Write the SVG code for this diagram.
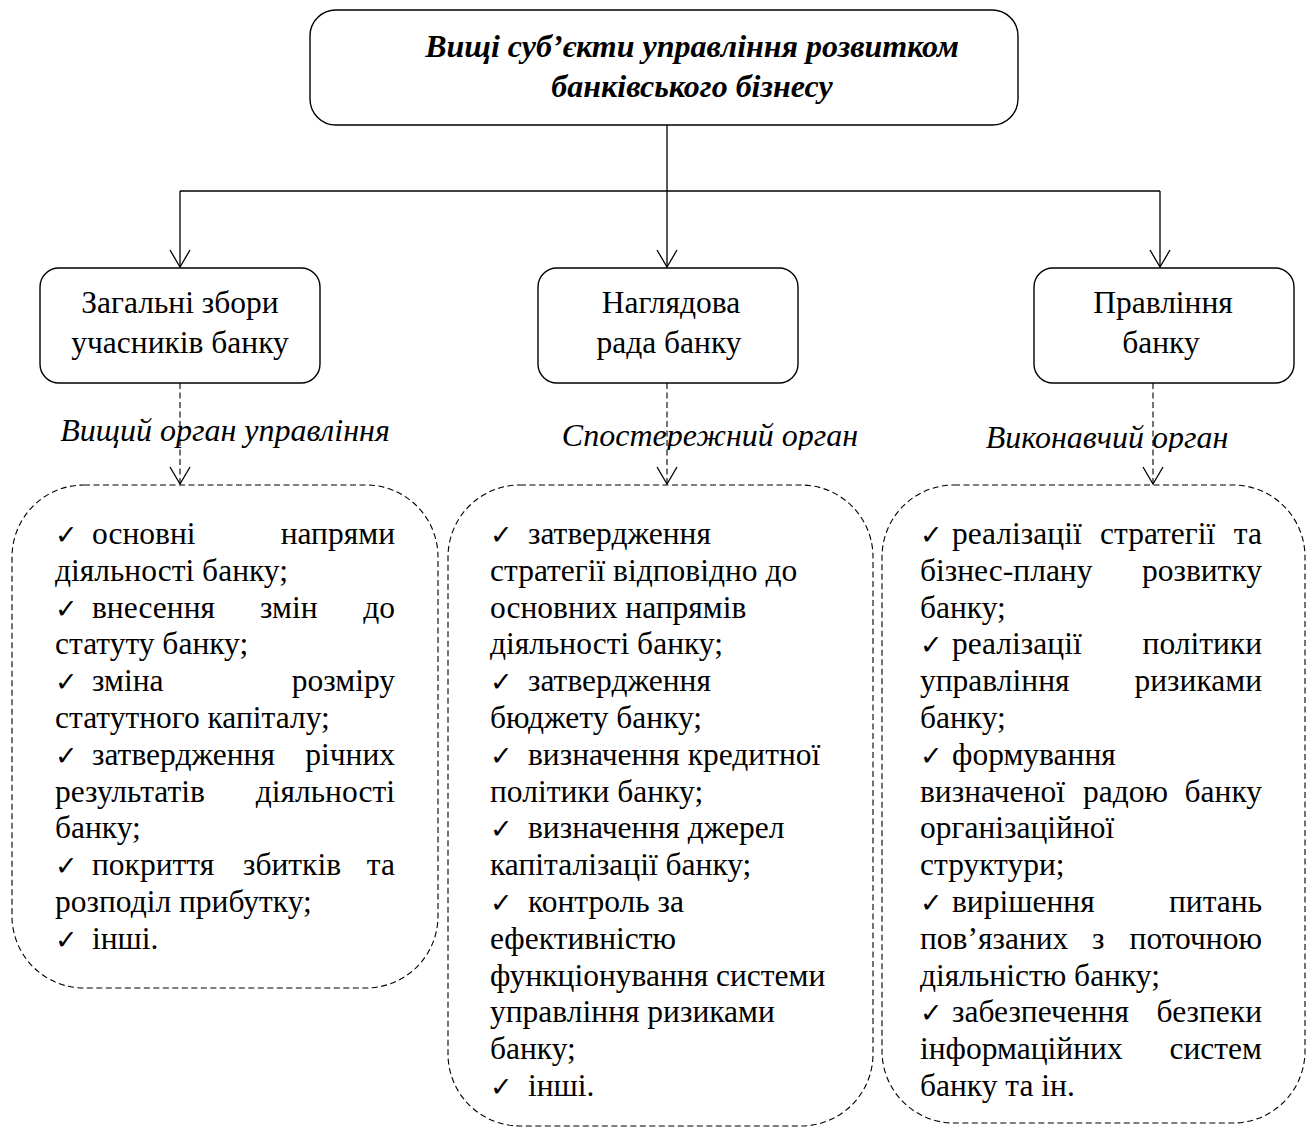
<svg xmlns="http://www.w3.org/2000/svg" width="1310" height="1128" viewBox="0 0 1310 1128">
  <style>
    .t { font-family: "Liberation Serif", "Times New Roman", serif; fill: #000; }
    .title { font-size: 32px; font-weight: bold; font-style: italic; }
    .head { font-size: 31.5px; }
    .lbl { font-size: 32px; font-style: italic; }
    .li { font-size: 31.5px; }
    .ck { font-family: "DejaVu Sans", sans-serif; font-size: 27px; font-weight: bold; fill: #000; }
    .box { fill: #fff; stroke: #000; stroke-width: 1.4; }
    .dbox { fill: none; stroke: #000; stroke-width: 1.1; stroke-dasharray: 6 3.5; }
    .wire { fill: none; stroke: #000; stroke-width: 1.3; }
    .dwire { fill: none; stroke: #000; stroke-width: 1.1; stroke-dasharray: 6 3.5; }
  </style>
  <defs>
    <marker id="vhead" markerUnits="userSpaceOnUse" markerWidth="24" markerHeight="24" viewBox="-20 -12 22 24" refX="0" refY="0" orient="auto">
      <path d="M -17 -10 L 0 0 L -17 10" fill="none" stroke="#000" stroke-width="1.3" stroke-dasharray="none"/>
    </marker>
    <clipPath id="clipMid"><rect x="540" y="400" width="340" height="50"/></clipPath>
    <clipPath id="clipRight"><rect x="970" y="400" width="280" height="52"/></clipPath>
  </defs>
  <rect width="1310" height="1128" fill="#fff"/>

  <!-- connectors -->
  <g id="connectors">
    <path class="wire" d="M 667 125 V 191"/>
    <path class="wire" d="M 180 191 H 1160"/>
    <path class="wire" d="M 180 191 V 267" marker-end="url(#vhead)"/>
    <path class="wire" d="M 667 191 V 267" marker-end="url(#vhead)"/>
    <path class="wire" d="M 1160 191 V 267" marker-end="url(#vhead)"/>
    <path class="dwire" d="M 180 383 V 484" marker-end="url(#vhead)"/>
    <path class="dwire" d="M 667 383 V 484" marker-end="url(#vhead)"/>
    <path class="dwire" d="M 1153 383 V 484" marker-end="url(#vhead)"/>
  </g>

  <!-- top node -->
  <g id="top">
    <rect class="box" x="310" y="10" width="708" height="115" rx="26" ry="26"/>
    <text class="t title" text-anchor="middle" x="692" y="57">Вищі суб’єкти управління розвитком</text>
    <text class="t title" text-anchor="middle" x="692" y="97">банківського бізнесу</text>
  </g>

  <!-- second level nodes -->
  <g id="general-meeting">
    <rect class="box" x="40" y="268" width="280" height="115" rx="19" ry="19"/>
    <text class="t head" text-anchor="middle" x="180" y="313">Загальні збори</text>
    <text class="t head" text-anchor="middle" x="180" y="353">учасників банку</text>
  </g>
  <g id="supervisory-board">
    <rect class="box" x="538" y="268" width="260" height="115" rx="19" ry="19"/>
    <text class="t head" text-anchor="middle" x="671" y="313">Наглядова</text>
    <text class="t head" text-anchor="middle" x="669" y="353">рада банку</text>
  </g>
  <g id="management-board">
    <rect class="box" x="1034" y="268" width="260" height="115" rx="19" ry="19"/>
    <text class="t head" text-anchor="middle" x="1163" y="313">Правління</text>
    <text class="t head" text-anchor="middle" x="1161" y="353">банку</text>
  </g>

  <!-- role labels -->
  <g id="role-labels">
    <text class="t lbl" text-anchor="middle" x="225" y="441">Вищий орган управління</text>
    <g clip-path="url(#clipMid)">
      <text class="t lbl" text-anchor="middle" x="710" y="446">Спостережний орган</text>
    </g>
    <g clip-path="url(#clipRight)">
      <text class="t lbl" text-anchor="middle" x="1107" y="448">Виконавчий орган</text>
    </g>
  </g>

  <!-- left list -->
  <g id="list-general">
    <rect class="dbox" x="12" y="485" width="426" height="503" rx="72" ry="72"/>
    <text class="ck" x="55" y="544">✓</text>
    <text class="t li" x="92" y="544">основні</text>
    <text class="t li" x="395" y="544" text-anchor="end">напрями</text>
    <text class="t li" x="55" y="580.8">діяльності банку;</text>
    <text class="ck" x="55" y="617.6">✓</text>
    <text class="t li" x="92" y="617.6">внесення</text>
    <text class="t li" x="260" y="617.6">змін</text>
    <text class="t li" x="395" y="617.6" text-anchor="end">до</text>
    <text class="t li" x="55" y="654.4">статуту банку;</text>
    <text class="ck" x="55" y="691.2">✓</text>
    <text class="t li" x="92" y="691.2">зміна</text>
    <text class="t li" x="395" y="691.2" text-anchor="end">розміру</text>
    <text class="t li" x="55" y="728">статутного капіталу;</text>
    <text class="ck" x="55" y="764.8">✓</text>
    <text class="t li" x="92" y="764.8">затвердження</text>
    <text class="t li" x="395" y="764.8" text-anchor="end">річних</text>
    <text class="t li" x="55" y="801.6">результатів</text>
    <text class="t li" x="395" y="801.6" text-anchor="end">діяльності</text>
    <text class="t li" x="55" y="838.4">банку;</text>
    <text class="ck" x="55" y="875.2">✓</text>
    <text class="t li" x="92" y="875.2">покриття</text>
    <text class="t li" x="243" y="875.2">збитків</text>
    <text class="t li" x="395" y="875.2" text-anchor="end">та</text>
    <text class="t li" x="55" y="912">розподіл прибутку;</text>
    <text class="ck" x="55" y="948.8">✓</text>
    <text class="t li" x="92" y="948.8">інші.</text>
  </g>

  <!-- middle list -->
  <g id="list-supervisory">
    <rect class="dbox" x="448" y="485" width="425" height="641" rx="72" ry="72"/>
    <text class="ck" x="490" y="544">✓</text>
    <text class="t li" x="528" y="544">затвердження</text>
    <text class="t li" x="490" y="580.8">стратегії відповідно до</text>
    <text class="t li" x="490" y="617.6">основних напрямів</text>
    <text class="t li" x="490" y="654.4">діяльності банку;</text>
    <text class="ck" x="490" y="691.2">✓</text>
    <text class="t li" x="528" y="691.2">затвердження</text>
    <text class="t li" x="490" y="728">бюджету банку;</text>
    <text class="ck" x="490" y="764.8">✓</text>
    <text class="t li" x="528" y="764.8">визначення кредитної</text>
    <text class="t li" x="490" y="801.6">політики банку;</text>
    <text class="ck" x="490" y="838.4">✓</text>
    <text class="t li" x="528" y="838.4">визначення джерел</text>
    <text class="t li" x="490" y="875.2">капіталізації банку;</text>
    <text class="ck" x="490" y="912">✓</text>
    <text class="t li" x="528" y="912">контроль за</text>
    <text class="t li" x="490" y="948.8">ефективністю</text>
    <text class="t li" x="490" y="985.6">функціонування системи</text>
    <text class="t li" x="490" y="1022.4">управління ризиками</text>
    <text class="t li" x="490" y="1059.2">банку;</text>
    <text class="ck" x="490" y="1096">✓</text>
    <text class="t li" x="528" y="1096">інші.</text>
  </g>

  <!-- right list -->
  <g id="list-management">
    <rect class="dbox" x="882" y="485" width="423" height="638" rx="72" ry="72"/>
    <text class="ck" x="920" y="544">✓</text>
    <text class="t li" x="952" y="544">реалізації</text>
    <text class="t li" x="1100" y="544">стратегії</text>
    <text class="t li" x="1262" y="544" text-anchor="end">та</text>
    <text class="t li" x="920" y="580.8">бізнес-плану</text>
    <text class="t li" x="1262" y="580.8" text-anchor="end">розвитку</text>
    <text class="t li" x="920" y="617.6">банку;</text>
    <text class="ck" x="920" y="654.4">✓</text>
    <text class="t li" x="952" y="654.4">реалізації</text>
    <text class="t li" x="1262" y="654.4" text-anchor="end">політики</text>
    <text class="t li" x="920" y="691.2">управління</text>
    <text class="t li" x="1262" y="691.2" text-anchor="end">ризиками</text>
    <text class="t li" x="920" y="728">банку;</text>
    <text class="ck" x="920" y="764.8">✓</text>
    <text class="t li" x="952" y="764.8">формування</text>
    <text class="t li" x="920" y="801.6">визначеної</text>
    <text class="t li" x="1083" y="801.6">радою</text>
    <text class="t li" x="1262" y="801.6" text-anchor="end">банку</text>
    <text class="t li" x="920" y="838.4">організаційної</text>
    <text class="t li" x="920" y="875.2">структури;</text>
    <text class="ck" x="920" y="912">✓</text>
    <text class="t li" x="952" y="912">вирішення</text>
    <text class="t li" x="1262" y="912" text-anchor="end">питань</text>
    <text class="t li" x="920" y="948.8">пов’язаних</text>
    <text class="t li" x="1092" y="948.8">з</text>
    <text class="t li" x="1262" y="948.8" text-anchor="end">поточною</text>
    <text class="t li" x="920" y="985.6">діяльністю банку;</text>
    <text class="ck" x="920" y="1022.4">✓</text>
    <text class="t li" x="952" y="1022.4">забезпечення</text>
    <text class="t li" x="1262" y="1022.4" text-anchor="end">безпеки</text>
    <text class="t li" x="920" y="1059.2">інформаційних</text>
    <text class="t li" x="1262" y="1059.2" text-anchor="end">систем</text>
    <text class="t li" x="920" y="1096">банку та ін.</text>
  </g>
</svg>
